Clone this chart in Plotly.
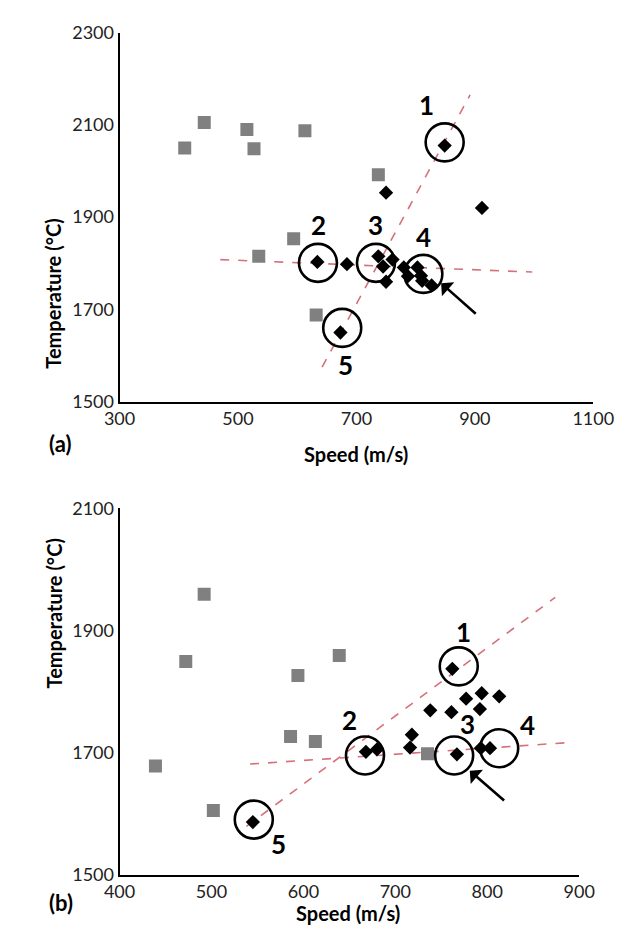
import plotly.graph_objects as go

# ---------------- Panel (a) data ----------------
a_sq_x = [410, 443, 515, 527, 613, 737, 594, 535, 632]
a_sq_y = [2050, 2105, 2090, 2048, 2087, 1992, 1853, 1815, 1688]
a_dm_x = [849, 750, 912, 634, 684, 737, 745, 761, 750, 780, 803, 787, 809, 811, 827, 673]
a_dm_y = [2055, 1953, 1920, 1803, 1798, 1815, 1793, 1808, 1760, 1791, 1791, 1772, 1773, 1762, 1752, 1650]
a_circ_x = [849, 635, 733, 813, 676]
a_circ_y = [2062, 1801, 1801, 1777, 1660]
a_lbl_text = ["1", "2", "3", "4", "5"]
a_lbl_x = [818, 636, 732, 814, 682]
a_lbl_y = [2143, 1882, 1882, 1857, 1579]
a_fit1_x = [642, 892]
a_fit1_y = [1575, 2165]
a_fit2_x = [470, 997]
a_fit2_y = [1808, 1781]
a_arrow_tail = (904, 1688)
a_arrow_head = (843, 1757)
a_xticks = [300, 500, 700, 900, 1100]
a_yticks = [1500, 1700, 1900, 2100, 2300]

# ---------------- Panel (b) data ----------------
b_sq_x = [492, 472, 594, 639, 439, 502, 586, 613, 735]
b_sq_y = [1959, 1849, 1826, 1859, 1678, 1605, 1726, 1718, 1698]
b_dm_x = [545, 762, 777, 794, 813, 738, 761, 792, 718, 716, 767, 668, 680, 793, 803]
b_dm_y = [1586, 1837, 1788, 1797, 1792, 1769, 1766, 1771, 1729, 1708, 1697, 1701, 1705, 1707, 1707]
b_circ_x = [769, 667, 764, 813, 546]
b_circ_y = [1841, 1695, 1695, 1707, 1590]
b_lbl_text = ["1", "2", "3", "4", "5"]
b_lbl_x = [774, 650, 779, 844, 573]
b_lbl_y = [1897, 1753, 1747, 1745, 1550]
b_fit1_x = [538, 874]
b_fit1_y = [1579, 1954]
b_fit2_x = [542, 887]
b_fit2_y = [1681, 1716]
b_arrow_tail = (820, 1619)
b_arrow_head = (781, 1670)
b_xticks = [400, 500, 600, 700, 800, 900]
b_yticks = [1500, 1700, 1900, 2100]

W, H = 635, 950
FONT = "Lato"
FIT_COLOR = "rgb(214,112,124)"
SQ_COLOR = "rgb(128,128,128)"

fig = go.Figure()

def add_panel(xa, ya, sq_x, sq_y, dm_x, dm_y, c_x, c_y, fit1, fit2):
    fig.add_trace(go.Scatter(x=fit1[0], y=fit1[1], mode="lines", xaxis=xa, yaxis=ya,
                             line=dict(color=FIT_COLOR, width=1.6, dash="dash"), hoverinfo="skip"))
    fig.add_trace(go.Scatter(x=fit2[0], y=fit2[1], mode="lines", xaxis=xa, yaxis=ya,
                             line=dict(color=FIT_COLOR, width=1.6, dash="dash"), hoverinfo="skip"))
    fig.add_trace(go.Scatter(x=sq_x, y=sq_y, mode="markers", xaxis=xa, yaxis=ya,
                             marker=dict(symbol="square", size=13, color=SQ_COLOR)))
    fig.add_trace(go.Scatter(x=dm_x, y=dm_y, mode="markers", xaxis=xa, yaxis=ya,
                             marker=dict(symbol="diamond", size=11, color="black")))
    fig.add_trace(go.Scatter(x=c_x, y=c_y, mode="markers", xaxis=xa, yaxis=ya,
                             marker=dict(symbol="circle-open", size=38, color="black",
                                         line=dict(width=2.6, color="black"))))

add_panel("x", "y", a_sq_x, a_sq_y, a_dm_x, a_dm_y, a_circ_x, a_circ_y,
          (a_fit1_x, a_fit1_y), (a_fit2_x, a_fit2_y))
add_panel("x2", "y2", b_sq_x, b_sq_y, b_dm_x, b_dm_y, b_circ_x, b_circ_y,
          (b_fit1_x, b_fit1_y), (b_fit2_x, b_fit2_y))

annotations = []
for t, x, y in zip(a_lbl_text, a_lbl_x, a_lbl_y):
    annotations.append(dict(x=x, y=y, xref="x", yref="y", text=t, showarrow=False,
                            font=dict(family=FONT, size=26, color="black", weight="bold")))
for t, x, y in zip(b_lbl_text, b_lbl_x, b_lbl_y):
    annotations.append(dict(x=x, y=y, xref="x2", yref="y2", text=t, showarrow=False,
                            font=dict(family=FONT, size=26, color="black", weight="bold")))

annotations.append(dict(x=a_arrow_head[0], y=a_arrow_head[1], ax=a_arrow_tail[0], ay=a_arrow_tail[1],
                        xref="x", yref="y", axref="x", ayref="y", text="", showarrow=True,
                        arrowhead=1, arrowsize=1.2, arrowwidth=2.6, arrowcolor="black"))
annotations.append(dict(x=b_arrow_head[0], y=b_arrow_head[1], ax=b_arrow_tail[0], ay=b_arrow_tail[1],
                        xref="x2", yref="y2", axref="x2", ayref="y2", text="", showarrow=True,
                        arrowhead=1, arrowsize=1.2, arrowwidth=2.6, arrowcolor="black"))

# axis titles and panel letters (paper coords)
def px(xp):
    return xp / W
def py(yp):
    return 1 - yp / H

title_font = dict(family=FONT, size=20, color="black", weight="bold")
annotations += [
    dict(x=px(25), y=py(210), xref="paper", yref="paper", text="Temperature (°C)", textangle=-90,
         showarrow=False, font=title_font),
    dict(x=px(25), y=py(695), xref="paper", yref="paper", text="Temperature (°C)", textangle=-90,
         showarrow=False, font=title_font),
    dict(x=px(361), y=py(452), xref="paper", yref="paper", text="Speed (m/s)",
         showarrow=False, font=title_font),
    dict(x=px(353), y=py(937), xref="paper", yref="paper", text="Speed (m/s)",
         showarrow=False, font=title_font),
    dict(x=px(33), y=py(442), xref="paper", yref="paper", text="(a)",
         showarrow=False, font=dict(family=FONT, size=22, color="black", weight="bold")),
    dict(x=px(33), y=py(927), xref="paper", yref="paper", text="(b)",
         showarrow=False, font=dict(family=FONT, size=22, color="black", weight="bold")),
]

axis_common = dict(showgrid=False, zeroline=False, showline=True, linecolor="black", linewidth=2,
                   ticks="", tickfont=dict(family=FONT, size=18, color="#222"))

fig.update_layout(
    width=W, height=H, margin=dict(l=0, r=0, t=0, b=0),
    paper_bgcolor="white", plot_bgcolor="white", showlegend=False,
    xaxis=dict(domain=[px(110), px(613)], range=[300, 1100], tickvals=a_xticks,
               anchor="y", **axis_common),
    yaxis=dict(domain=[py(399), py(21)], range=[1500, 2300], tickvals=a_yticks,
               anchor="x", **axis_common),
    xaxis2=dict(domain=[px(110), px(598)], range=[400, 900], tickvals=b_xticks,
                anchor="y2", **axis_common),
    yaxis2=dict(domain=[py(883), py(508)], range=[1500, 2100], tickvals=b_yticks,
                anchor="x2", **axis_common),
    annotations=annotations,
)

fig.write_html("out.html")
